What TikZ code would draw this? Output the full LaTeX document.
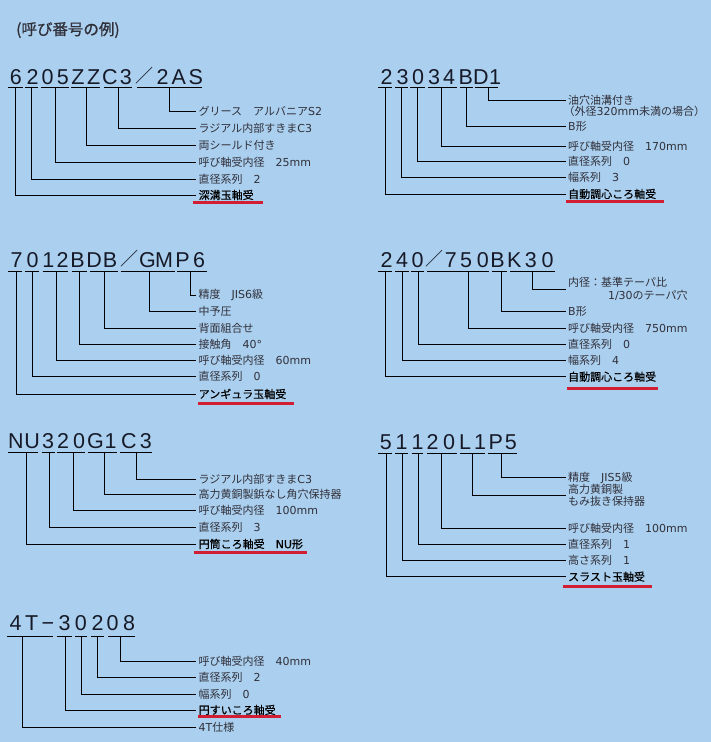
\documentclass[tikz,border=0pt]{standalone}
\usepackage{fontspec}
\setmainfont{Liberation Sans}
\newfontfamily\cjk{Noto Sans CJK JP}
\newfontfamily\cjkt[FakeBold=0.6]{Noto Sans CJK JP}
\newfontfamily\cjkh[FakeBold=1.0]{Noto Sans CJK JP}
\newfontfamily\latinlab{DejaVu Sans}
\newfontfamily\latinlabb[FakeBold=0.6]{DejaVu Sans}
\newfontfamily\codefont{Liberation Sans}
\definecolor{bg}{RGB}{171,207,238}
\definecolor{redl}{RGB}{210,30,50}
\definecolor{labc}{RGB}{48,48,58}
\definecolor{codec}{RGB}{22,26,40}
\newcommand\fsl{{\cjk\fontsize{18}{18}\selectfont\raisebox{1.5pt}{／}}}
\newcommand\fmn{−}
\newcommand\lt[1]{{\latinlab #1}}
\newcommand\ltb[1]{{\latinlabb #1}}
\tikzset{
  codech/.style={anchor=base, inner sep=0pt, text=codec,
    font=\codefont\fontsize{21.5}{21.5}\selectfont},
  lab/.style={anchor=west, inner xsep=2.5pt, inner ysep=0pt, text=labc,
    font=\cjk\fontsize{11}{11}\selectfont},
  labx/.style={anchor=west, inner sep=0pt, text=labc,
    font=\cjk\fontsize{11}{11}\selectfont},
  typ/.style={text=black, font=\cjkt\fontsize{11}{11}\selectfont},
  ld/.style={draw=black, line width=1pt},
  ul/.style={draw=black, line width=1pt},
  redline/.style={draw=redl, line width=2.6pt},
  ttl/.style={anchor=west, inner sep=0pt, text=labc,
    font=\cjkh\fontsize{15.5}{15.5}\selectfont}
}
\newcommand\codeline[3]{%
  \foreach \ch/\xx [count=\i] in {#3} {\node[codech] (#1\i) at (\xx,#2) {\ch};}}
\newcommand\ulines[2]{%
  \foreach \a/\b in {#2} {\draw[ul] (\a,#1) -- (\b,#1);}}
\newcommand\ldr[6][]{%
  \coordinate (#2u) at (#3,#4);
  \node[lab,#1] (#2) at (\LX,#5) {#6};
  \draw[ld] (#2u) |- (#2.west);}
\begin{document}
\begin{tikzpicture}[x=1pt,y=-1pt]
\fill[bg] (0,0) rectangle (711,742);
\useasboundingbox (0,0) rectangle (711,742);

\node[ttl] (title) at (16,30) {(呼び番号の例)};

% ---------- Block 1 ----------
\def\LX{196}
\codeline{ca}{84}{6/15.8, 2/32.5, 0/47.5, 5/62.8, Z/78, Z/93.8, C/110, 3/125.8, \fsl/144, 2/162.5, A/178.8, S/195.8}
\ulines{87.5}{8.3/22.7, 25/37.7, 40.7/69, 71/100, 104.3/131.7, 137.3/201.7}
\ldr{a1}{169.3}{87.5}{111.7}{グリース　アルバニア\lt{S2}}
\ldr{a2}{118.3}{87.5}{128.3}{ラジアル内部すきま\lt{C3}}
\ldr{a3}{86}{87.5}{145.7}{両シールド付き}
\ldr{a4}{55}{87.5}{162.3}{呼び軸受内径　\lt{25mm}}
\ldr{a5}{31.7}{87.5}{179}{直径系列　\lt{2}}
\ldr[typ]{a6}{15}{87.5}{195}{深溝玉軸受}
\draw[redline] (192.7,202.3) -- (262.7,202.3);

% ---------- Block 2 ----------
\def\LX{565.5}
\codeline{cb}{84}{2/386.5, 3/402.5, 0/418.2, 3/434.2, 4/449.2, B/465.8, D/480.8, 1/495}
\ulines{87.7}{378.3/391.7, 395/408.3, 410/425, 428.3/456.7, 460/473.3, 475/498}
\ldr{b1}{488.3}{87.7}{100.7}{油穴油溝付き}
\node[labx] (b1x) at (563.5,111.7) {（外径\lt{320mm}未満の場合）};
\ldr{b2}{466}{87.7}{126}{\lt{B}形}
\ldr{b3}{441.7}{87.7}{146}{呼び軸受内径　\lt{170mm}}
\ldr{b4}{417.3}{87.7}{161.7}{直径系列　\lt{0}}
\ldr{b5}{401.7}{87.7}{177.7}{幅系列　\lt{3}}
\ldr[typ]{b6}{385}{87.7}{194}{自動調心ころ軸受}
\draw[redline] (566,201.7) -- (664,201.7);

% ---------- Block 3 ----------
\def\LX{196}
\codeline{cc}{267}{7/16.7, 0/32.5, 1/48.3, 2/62.5, B/77.5, D/94.2, B/110, \fsl/129.2, G/147.5, M/164.2, P/182.5, 6/199.2}
\ulines{271}{8.3/21.7, 25/39.3, 42.7/68.3, 71.7/87.3, 90/118.3, 120.7/175, 177.3/206.7}
\ldr{c1}{190.7}{271}{295}{精度　\lt{JIS6}級}
\ldr{c2}{149}{271}{311.7}{中予圧}
\ldr{c3}{104.3}{271}{328.3}{背面組合せ}
\ldr{c4}{79}{271}{344}{接触角　\lt{40°}}
\ldr{c5}{56}{271}{360.7}{呼び軸受内径　\lt{60mm}}
\ldr{c6}{32.7}{271}{376.7}{直径系列　\lt{0}}
\ldr[typ]{c7}{16}{271}{394}{アンギュラ玉軸受}
\draw[redline] (198,403.3) -- (294,403.3);

% ---------- Block 4 ----------
\def\LX{565.5}
\codeline{cd}{267}{2/386.5, 4/402.2, 0/417.5, \fsl/434.5, 7/450.8, 5/466.2, 0/482.8, B/497.5, K/514.2, 3/530.8, 0/547.5}
\ulines{271}{378.3/392.3, 395/409.3, 410.7/424, 426.7/489, 491.7/506.7, 510/555}
\coordinate (d1u) at (532.7,271);
\coordinate (d1h) at (565.5,289.3);
\node[lab] (d1) at (565.5,282.3) {内径：基準テーパ比};
\node[labx] (d1x) at (607.8,295.7) {\lt{1/30}のテーパ穴};
\draw[ld] (d1u) |- (d1h);
\ldr{d2}{501.7}{271}{311.7}{\lt{B}形}
\ldr{d3}{468.3}{271}{328.3}{呼び軸受内径　\lt{750mm}}
\ldr{d4}{418.3}{271}{344.3}{直径系列　\lt{0}}
\ldr{d5}{402.7}{271}{360.7}{幅系列　\lt{4}}
\ldr[typ]{d6}{385}{271}{376.7}{自動調心ころ軸受}
\draw[redline] (566.7,388.3) -- (658.3,388.3);

% ---------- Block 5 ----------
\def\LX{196}
\codeline{ce}{448.3}{N/15.8, U/32.2, 3/48, 2/63.2, 0/79.2, G/95.5, 1/110.5, C/128.8, 3/145.8}
\ulines{452.3}{8.3/38.3, 41.7/55, 57.3/85, 88.3/116.7, 120/151.7}
\ldr{e1}{136}{452.3}{479.3}{ラジアル内部すきま\lt{C3}}
\ldr{e2}{104}{452.3}{494}{高力黄銅製鋲なし角穴保持器}
\ldr{e3}{73.3}{452.3}{510.7}{呼び軸受内径　\lt{100mm}}
\ldr{e4}{49.3}{452.3}{527.3}{直径系列　\lt{3}}
\ldr[typ]{e5}{26}{452.3}{544}{円筒ころ軸受　\ltb{NU}形}
\draw[redline] (194,552.7) -- (307.3,552.7);

% ---------- Block 6 ----------
\def\LX{565.5}
\codeline{cf}{449.5}{5/385.8, 1/401.5, 1/417.5, 2/432.5, 0/449.2, L/465, 1/480, P/495.8, 5/510.8}
\ulines{453.3}{378.3/391.7, 395/408.3, 411.7/423.3, 426.7/456.7, 460/485, 488.3/516.7}
\ldr{f1}{501.7}{453.3}{477.5}{精度　\lt{JIS5}級}
\coordinate (f2u) at (472.7,453.3);
\coordinate (f2h) at (565.5,495);
\node[lab] (f2) at (565.5,489.5) {高力黄銅製};
\node[lab] (f2x) at (565.5,501.5) {もみ抜き保持器};
\draw[ld] (f2u) |- (f2h);
\ldr{f3}{441.7}{453.3}{528.3}{呼び軸受内径　\lt{100mm}}
\ldr{f4}{418.3}{453.3}{544}{直径系列　\lt{1}}
\ldr{f5}{402.7}{453.3}{560.7}{高さ系列　\lt{1}}
\ldr[typ]{f6}{386}{453.3}{576.7}{スラスト玉軸受}
\draw[redline] (563.3,586.7) -- (651.7,586.7);

% ---------- Block 7 ----------
\def\LX{196}
\codeline{cg}{630}{4/15.5, T/31.7, \fmn/48, 3/64.7, 0/80.8, 2/97.5, 0/112.5, 8/129.2}
\ulines{636}{7.3/53.3, 57.3/71.7, 75/87.3, 90.7/104, 108.3/135}
\ldr{g1}{120}{636}{661.7}{呼び軸受内径　\lt{40mm}}
\ldr{g2}{97.3}{636}{677.3}{直径系列　\lt{2}}
\ldr{g3}{81.7}{636}{694.3}{幅系列　\lt{0}}
\ldr[typ]{g4}{65}{636}{710}{円すいころ軸受}
\ldr{g5}{22.7}{636}{727.3}{\lt{4T}仕様}
\draw[redline] (198.3,716.7) -- (280.7,716.7);
\end{tikzpicture}
\end{document}
